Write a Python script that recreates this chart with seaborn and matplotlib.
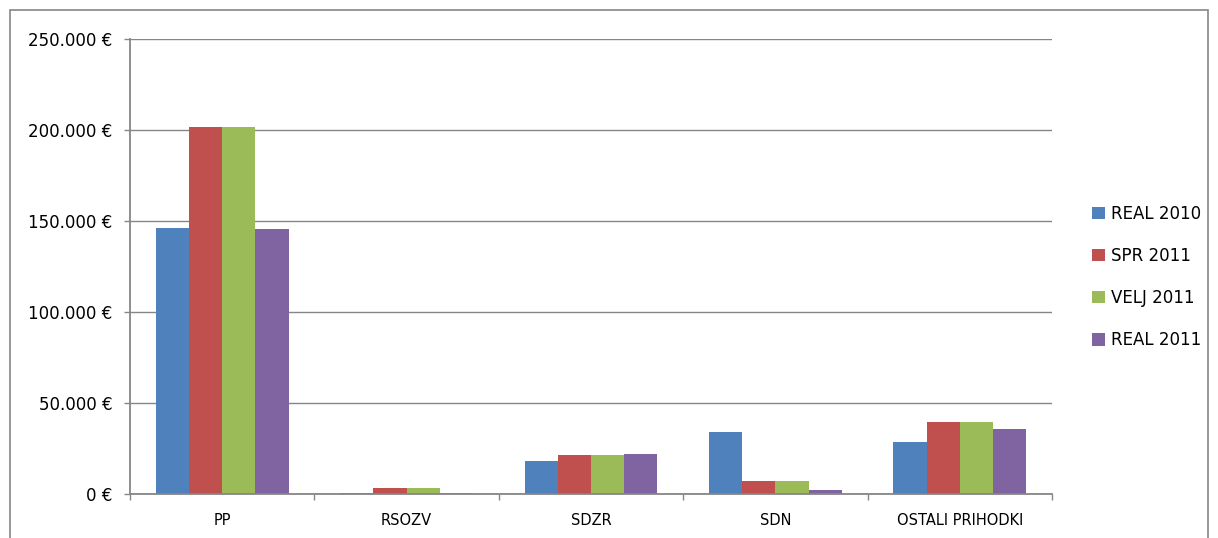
import pandas as pd
import seaborn as sns
import matplotlib.pyplot as plt
from matplotlib.patches import Rectangle
from matplotlib.ticker import FuncFormatter, FixedLocator

# data (EUR)
categories = ["PP", "RSOZV", "SDZR", "SDN", "OSTALI PRIHODKI"]
series = ["REAL 2010", "SPR 2011", "VELJ 2011", "REAL 2011"]
real_2010 = [146400, 600, 18300, 34400, 28600]
spr_2011 = [202100, 3600, 21600, 7300, 39900]
velj_2011 = [202100, 3600, 21600, 7300, 39900]
real_2011 = [146000, 600, 22300, 2700, 35900]
colors = ["#4F81BD", "#C0504D", "#9BBB59", "#8064A2"]

rows = []
for name, vals in zip(series, [real_2010, spr_2011, velj_2011, real_2011]):
    for cat, v in zip(categories, vals):
        rows.append({"cat": cat, "series": name, "value": v})
df = pd.DataFrame(rows)

sns.set_style("white")
plt.rcParams["font.family"] = ["DejaVu Sans"]
plt.rcParams["text.color"] = "black"
plt.rcParams["xtick.color"] = "black"
plt.rcParams["ytick.color"] = "black"

fig = plt.figure(figsize=(12.18, 5.38), dpi=100)
ax = fig.add_axes([130 / 1218, 0.0809, 922 / 1218, 0.8457])

sns.barplot(data=df, x="cat", y="value", hue="series", palette=colors,
            width=0.72, saturation=1, linewidth=0, ax=ax, legend=True)

gray = "#868686"
ax.set_ylim(0, 250000)
ax.set_xlim(-0.5, len(categories) - 0.5)
ax.yaxis.set_major_locator(FixedLocator([0, 50000, 100000, 150000, 200000, 250000]))
ax.yaxis.set_major_formatter(FuncFormatter(lambda v, p: f"{int(v):,}".replace(",", ".") + " €"))
ax.grid(axis="y", color=gray, linewidth=1)
ax.set_axisbelow(True)
ax.set_xlabel("")
ax.set_ylabel("")

for s in ["top", "right"]:
    ax.spines[s].set_visible(False)
for s in ["left", "bottom"]:
    ax.spines[s].set_color(gray)
    ax.spines[s].set_linewidth(1.3)

ax.tick_params(axis="y", length=4.5, width=1, color=gray, labelcolor="black",
               labelsize=12, pad=8, left=True)
ax.tick_params(axis="x", which="major", length=0, labelsize=10.5, labelcolor="black", pad=13)
ax.set_xticks([i - 0.5 for i in range(len(categories) + 1)], minor=True)
ax.tick_params(axis="x", which="minor", length=4.5, width=1, color=gray, bottom=True)

ax.legend(loc="center left", bbox_to_anchor=(1092 / 1218, 0.485), bbox_transform=fig.transFigure,
          frameon=False, fontsize=12, handlelength=0.75, handleheight=0.75,
          handletextpad=0.4, labelspacing=1.45, borderpad=0, borderaxespad=0)

# outer chart frame
fig.patches.append(Rectangle((10 / 1218, -0.05), 1198 / 1218, 1.05 - 10 / 538,
                             transform=fig.transFigure, fill=False,
                             edgecolor=gray, linewidth=1.2))

fig.savefig("out.png", dpi=100)
